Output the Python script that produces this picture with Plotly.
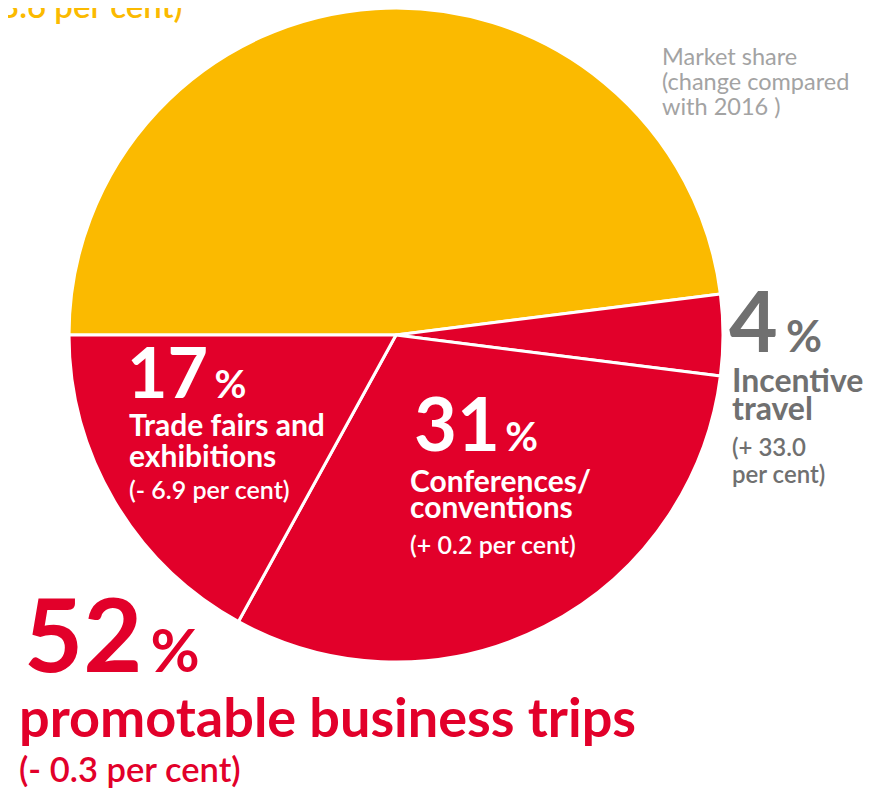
import plotly.graph_objects as go

W, H = 890, 791
OFF = 8  # page body margin shifts the figure by 8px

segments = ["Business trips (other)", "Incentive travel", "Conferences/conventions", "Trade fairs and exhibitions"]
shares = [48, 4, 31, 17]
slice_colors = ["#FBBA00", "#E2002A", "#E2002A", "#E2002A"]

YELLOW = "#FBBA00"
RED = "#E2002A"
GRAY = "#707070"
LIGHT = "#A3A3A3"
WHITE = "#FFFFFF"
FONT = "Lato"

fig = go.Figure()
fig.add_trace(go.Pie(
    labels=segments,
    values=shares,
    sort=False,
    direction="clockwise",
    rotation=270,
    marker=dict(colors=slice_colors, line=dict(color="white", width=3)),
    textinfo="none",
    hoverinfo="label+percent",
    showlegend=False,
    domain=dict(x=[(69 - OFF) / W, (723 - OFF) / W], y=[1 - (662 - OFF) / H, 1]),
))


def line(text, x, base, size, color, weight="normal"):
    # place a single text line by its left edge and baseline (window pixels)
    bottom = base - OFF + 0.213 * size
    fig.add_annotation(
        text=text, x=(x - OFF) / W, y=1 - bottom / H, xref="paper", yref="paper",
        xanchor="left", yanchor="bottom", showarrow=False, borderpad=0,
        align="left",
        font=dict(family=FONT, size=size, color=color, weight=weight),
    )


def big(num, x, base, size, pct_size, color, gap):
    line(f"{num}<span style='font-size:{gap}px'> </span>"
         f"<span style='font-size:{pct_size}px'>%</span>", x, base, size, color, "bold")


# yellow slice label, cut off at the top edge
line("3.6 per cent)", -1, 19, 33, YELLOW, 600)

# market share note
line("Market share", 661, 66, 23.5, LIGHT)
line("(change compared", 661, 91, 23.5, LIGHT)
line("with 2016 )", 661, 116, 23.5, LIGHT)

# incentive travel
big("4", 728, 353, 84, 44, GRAY, 34)
line("Incentive", 731, 393, 32, GRAY, "bold")
line("travel", 731, 421, 32, GRAY, "bold")
line("(+ 33.0", 731, 457, 24, GRAY, 600)
line("per cent)", 731, 484, 24, GRAY, 600)

# trade fairs
big("17", 126, 399, 70, 39, WHITE, 26)
line("Trade fairs and", 128, 437, 30, WHITE, "bold")
line("exhibitions", 128, 468, 30, WHITE, "bold")
line("(- 6.9 per cent)", 128, 500, 25, WHITE, 600)

# conferences
big("31", 413, 452, 74, 40, WHITE, 22)
line("Conferences/", 409, 493, 30, WHITE, "bold")
line("conventions", 409, 519, 30, WHITE, "bold")
line("(+ 0.2 per cent)", 409, 555, 25, WHITE, 600)

# total promotable
big("52", 23, 673, 102, 60, RED, 34)
line("promotable business trips", 18, 738, 54, RED, "bold")
line("(- 0.3 per cent)", 18, 783, 34.5, RED, 600)

fig.update_layout(
    width=W, height=H,
    margin=dict(l=0, r=0, t=0, b=0),
    paper_bgcolor="white",
    plot_bgcolor="white",
)

fig.write_html("out.html")
